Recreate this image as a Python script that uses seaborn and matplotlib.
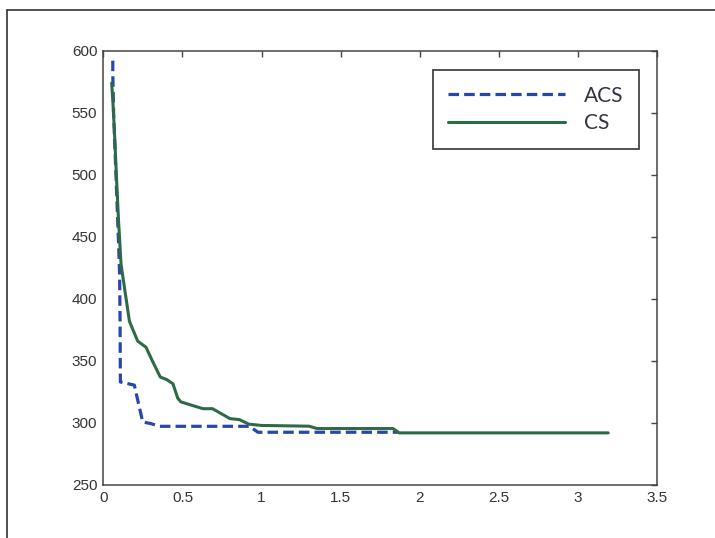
import numpy as np
import pandas as pd
import matplotlib
matplotlib.use("Agg")
import matplotlib.pyplot as plt
from matplotlib.lines import Line2D
import seaborn as sns

# ---- data ----
acs_x = [0.060, 0.060, 0.065, 0.080, 0.095, 0.103, 0.106, 0.108, 0.196, 0.249, 0.300, 0.354, 0.924, 0.977, 1.86]
acs_y = [592, 582, 550, 500, 450, 420, 380, 333, 330.5, 300.8, 299.5, 297.3, 297.3, 292.5, 292.5]

cs_x = [0.053, 0.060, 0.070, 0.084, 0.097, 0.100, 0.112, 0.143, 0.165, 0.217, 0.270, 0.310,
        0.360, 0.400, 0.440, 0.470, 0.490, 0.565, 0.630, 0.690, 0.800, 0.860, 0.920, 1.000,
        1.300, 1.350, 1.830, 1.870, 3.190]
cs_y = [574, 560, 536, 496, 461, 455, 428, 401, 382, 366, 361, 350,
        337, 335, 331.6, 320, 317, 314, 311.5, 311.5, 303.5, 302.7, 299, 298,
        297.4, 295.5, 295.5, 292, 292]

x_ticks = [0, 0.5, 1, 1.5, 2, 2.5, 3, 3.5]
x_labels = ["0", "0.5", "1", "1.5", "2", "2.5", "3", "3.5"]
y_ticks = [250, 300, 350, 400, 450, 500, 550, 600]
series_names = ["ACS", "CS"]

sns.set_theme(style="white")
plt.rcParams['font.family'] = ['Liberation Sans', 'DejaVu Sans']

df_acs = pd.DataFrame({"x": acs_x, "y": acs_y, "s": series_names[0]})
df_cs = pd.DataFrame({"x": cs_x, "y": cs_y, "s": series_names[1]})

fig = plt.figure(figsize=(7.15, 5.38), dpi=100)
# axes: left 103.3px, right 657.3px, top 50.7px, bottom 485px
ax = fig.add_axes([103.3/715, (538-485)/538, 554/715, 434.3/538])

blue = "#2847a8"
green = "#2e6a48"
sns.lineplot(data=df_acs, x="x", y="y", ax=ax, sort=False, estimator=None,
             color=blue, linewidth=2.3, linestyle=(0, (3.3, 1.6)), label=series_names[0])
sns.lineplot(data=df_cs, x="x", y="y", ax=ax, sort=False, estimator=None,
             color=green, linewidth=2.2, label=series_names[1])

ax.set_xlim(0, 3.5)
ax.set_ylim(250, 600)
ax.set_xticks(x_ticks)
ax.set_xticklabels(x_labels)
ax.set_yticks(y_ticks)
ax.set_xlabel("")
ax.set_ylabel("")
ax.tick_params(direction="in", top=True, right=True, length=4, width=1,
               color="#444444", labelsize=11, labelcolor="#333333")
ax.tick_params(axis="x", pad=4)
ax.tick_params(axis="y", pad=4.3)
for sp in ax.spines.values():
    sp.set_color("#444444")
    sp.set_linewidth(1.1)
    sp.set_visible(True)

leg = ax.legend(loc="upper left", bbox_to_anchor=(0.5946, 0.9555), borderaxespad=0,
                handlelength=5.6, frameon=True, fancybox=False,
                labelspacing=0.36, borderpad=0.75, handletextpad=0.9,
                prop={"family": ["Lato", "DejaVu Sans"], "size": 15})
leg.get_frame().set_edgecolor("#444444")
leg.get_frame().set_linewidth(1.3)
leg.get_frame().set_facecolor("white")
leg.get_frame().set_alpha(1)
for t in leg.get_texts():
    t.set_color("#333344")

# outer figure frame (partially visible in reference)
fig.add_artist(Line2D([7/715, 7/715], [0, 1 - 10/538], transform=fig.transFigure,
                      color="#333333", linewidth=1.2))
fig.add_artist(Line2D([7/715, 1], [1 - 10/538, 1 - 10/538], transform=fig.transFigure,
                      color="#333333", linewidth=1.2))

fig.savefig("out.png", dpi=100)
